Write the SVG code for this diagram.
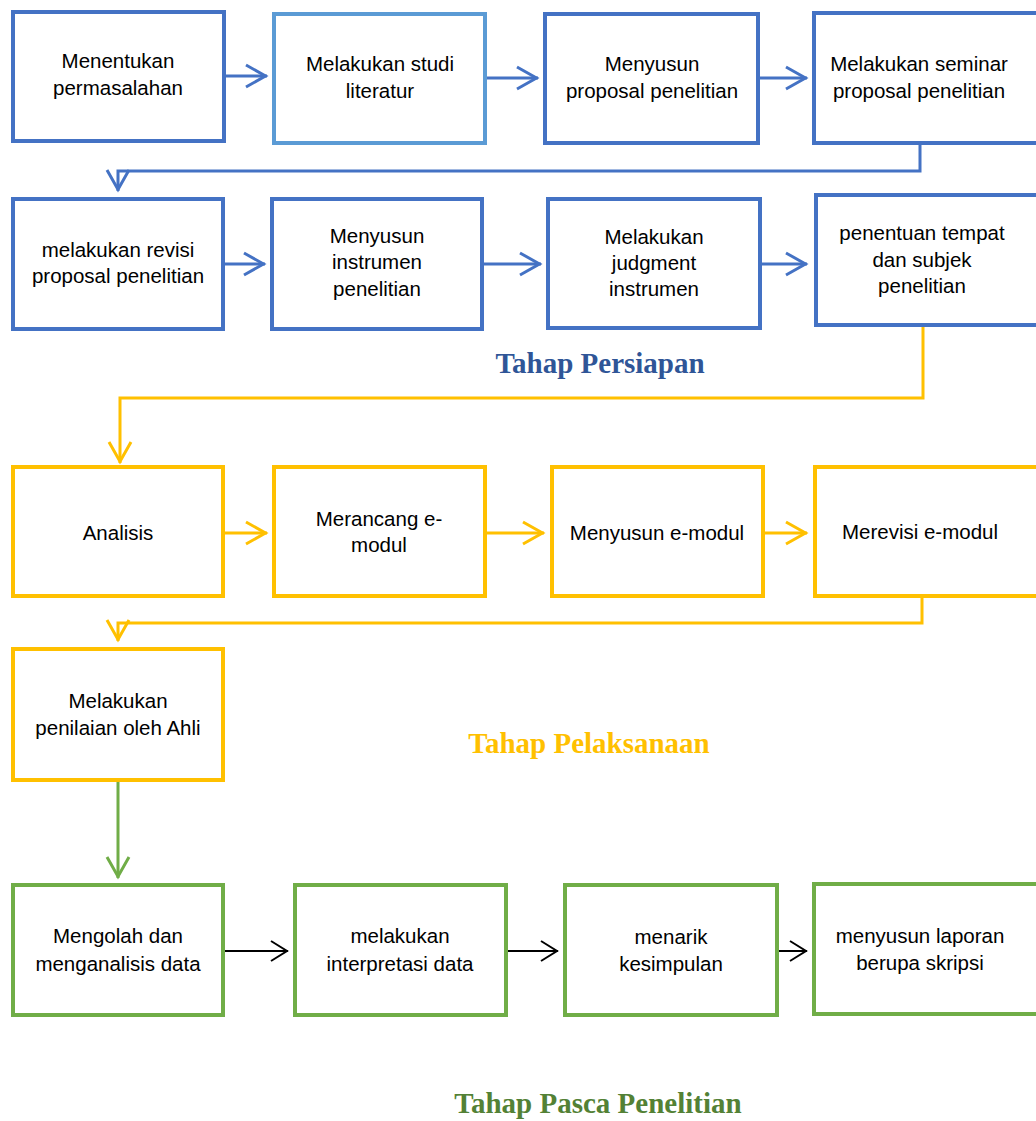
<svg xmlns="http://www.w3.org/2000/svg" width="1036" height="1121" viewBox="0 0 1036 1121">
<style>
.box{fill:#fff;stroke-width:4}
.b{stroke:#4472C4}.lb{stroke:#5B9BD5}.y{stroke:#FFC000}.g{stroke:#70AD47}
.t{font-family:"Liberation Sans",Arial,sans-serif;font-size:20.5px;fill:#000;text-anchor:middle}
.h{font-family:"Liberation Serif","Times New Roman",serif;font-weight:bold;text-anchor:middle}
.c{fill:none;stroke-width:3}
.k{fill:none;stroke:#000;stroke-width:2}
</style>
<defs>
<marker id="ab" viewBox="-23 -14 25 28" refX="0" refY="0" markerWidth="25" markerHeight="28" markerUnits="userSpaceOnUse" orient="auto">
<path d="M-21,-11 L-1.5,0 L-21,11" fill="none" stroke="#4472C4" stroke-width="3"/>
</marker>
<marker id="ay" viewBox="-23 -14 25 28" refX="0" refY="0" markerWidth="25" markerHeight="28" markerUnits="userSpaceOnUse" orient="auto">
<path d="M-21,-11 L-1.5,0 L-21,11" fill="none" stroke="#FFC000" stroke-width="3"/>
</marker>
<marker id="ag" viewBox="-23 -14 25 28" refX="0" refY="0" markerWidth="25" markerHeight="28" markerUnits="userSpaceOnUse" orient="auto">
<path d="M-21,-11 L-1.5,0 L-21,11" fill="none" stroke="#70AD47" stroke-width="3"/>
</marker>
<marker id="ak" viewBox="-20 -12 22 24" refX="0" refY="0" markerWidth="22" markerHeight="24" markerUnits="userSpaceOnUse" orient="auto">
<path d="M-17,-10 L-1,0 L-17,10" fill="none" stroke="#000" stroke-width="2"/>
</marker>
</defs>

<g id="connectors">
<path class="c" stroke="#4472C4" marker-end="url(#ab)" d="M226,76 L267,76"/>
<path class="c" stroke="#4472C4" marker-end="url(#ab)" d="M487,78 L538,78"/>
<path class="c" stroke="#4472C4" marker-end="url(#ab)" d="M760,78 L807,78"/>
<path class="c" stroke="#4472C4" marker-end="url(#ab)" d="M920,145 L920,171 L118,171 L118,191"/>
<path class="c" stroke="#4472C4" marker-end="url(#ab)" d="M225,264 L265,264"/>
<path class="c" stroke="#4472C4" marker-end="url(#ab)" d="M484,264 L541,264"/>
<path class="c" stroke="#4472C4" marker-end="url(#ab)" d="M762,264 L807,264"/>
<path class="c" stroke="#FFC000" marker-end="url(#ay)" d="M923,327 L923,398 L120,398 L120,463"/>
<path class="c" stroke="#FFC000" marker-end="url(#ay)" d="M225,533 L267,533"/>
<path class="c" stroke="#FFC000" marker-end="url(#ay)" d="M487,533 L544,533"/>
<path class="c" stroke="#FFC000" marker-end="url(#ay)" d="M765,533 L807,533"/>
<path class="c" stroke="#FFC000" marker-end="url(#ay)" d="M922,598 L922,623 L118,623 L118,641"/>
<path class="c" stroke="#70AD47" marker-end="url(#ag)" d="M118,782 L118,878"/>
<path class="k" marker-end="url(#ak)" d="M225,951 L288,951"/>
<path class="k" marker-end="url(#ak)" d="M508,951 L558,951"/>
<path class="k" marker-end="url(#ak)" d="M779,951 L807,951"/>
</g>

<g id="n1"><rect class="box b" x="13" y="12" width="211" height="129"/><text class="t" x="118" y="68">Menentukan</text><text class="t" x="118" y="95">permasalahan</text></g>
<g id="n2"><rect class="box lb" x="274" y="14" width="211" height="129"/><text class="t" x="380" y="71">Melakukan studi</text><text class="t" x="380" y="98">literatur</text></g>
<g id="n3"><rect class="box b" x="545" y="14" width="213" height="129"/><text class="t" x="652" y="71">Menyusun</text><text class="t" x="652" y="98">proposal penelitian</text></g>
<g id="n4"><rect class="box b" x="814" y="13" width="230" height="130"/><text class="t" x="919" y="71">Melakukan seminar</text><text class="t" x="919" y="98">proposal penelitian</text></g>

<g id="n5"><rect class="box b" x="13" y="199" width="210" height="130"/><text class="t" x="118" y="257">melakukan revisi</text><text class="t" x="118" y="283">proposal penelitian</text></g>
<g id="n6"><rect class="box b" x="272" y="199" width="210" height="130"/><text class="t" x="377" y="243">Menyusun</text><text class="t" x="377" y="269">instrumen</text><text class="t" x="377" y="296">penelitian</text></g>
<g id="n7"><rect class="box b" x="548" y="199" width="212" height="129"/><text class="t" x="654" y="244">Melakukan</text><text class="t" x="654" y="270">judgment</text><text class="t" x="654" y="296">instrumen</text></g>
<g id="n8"><rect class="box b" x="816" y="195" width="230" height="130"/><text class="t" x="922" y="240">penentuan tempat</text><text class="t" x="922" y="267">dan subjek</text><text class="t" x="922" y="293">penelitian</text></g>

<text class="h" x="600" y="373" font-size="29" fill="#2F5597">Tahap Persiapan</text>

<g id="n9"><rect class="box y" x="13" y="467" width="210" height="129"/><text class="t" x="118" y="540">Analisis</text></g>
<g id="n10"><rect class="box y" x="274" y="467" width="211" height="129"/><text class="t" x="379" y="526">Merancang e-</text><text class="t" x="379" y="552">modul</text></g>
<g id="n11"><rect class="box y" x="552" y="467" width="211" height="129"/><text class="t" x="657" y="540">Menyusun e-modul</text></g>
<g id="n12"><rect class="box y" x="815" y="467" width="230" height="129"/><text class="t" x="920" y="539">Merevisi e-modul</text></g>
<g id="n13"><rect class="box y" x="13" y="649" width="210" height="131"/><text class="t" x="118" y="708">Melakukan</text><text class="t" x="118" y="735">penilaian oleh Ahli</text></g>

<text class="h" x="589" y="753" font-size="29" fill="#FFC000">Tahap Pelaksanaan</text>

<g id="n14"><rect class="box g" x="13" y="885" width="210" height="130"/><text class="t" x="118" y="943">Mengolah dan</text><text class="t" x="118" y="971">menganalisis data</text></g>
<g id="n15"><rect class="box g" x="295" y="885" width="211" height="130"/><text class="t" x="400" y="943">melakukan</text><text class="t" x="400" y="971">interpretasi data</text></g>
<g id="n16"><rect class="box g" x="565" y="885" width="212" height="130"/><text class="t" x="671" y="944">menarik</text><text class="t" x="671" y="971">kesimpulan</text></g>
<g id="n17"><rect class="box g" x="814" y="884" width="230" height="130"/><text class="t" x="920" y="943">menyusun laporan</text><text class="t" x="920" y="970">berupa skripsi</text></g>

<text class="h" x="598" y="1113" font-size="29" fill="#538135">Tahap Pasca Penelitian</text>
</svg>
